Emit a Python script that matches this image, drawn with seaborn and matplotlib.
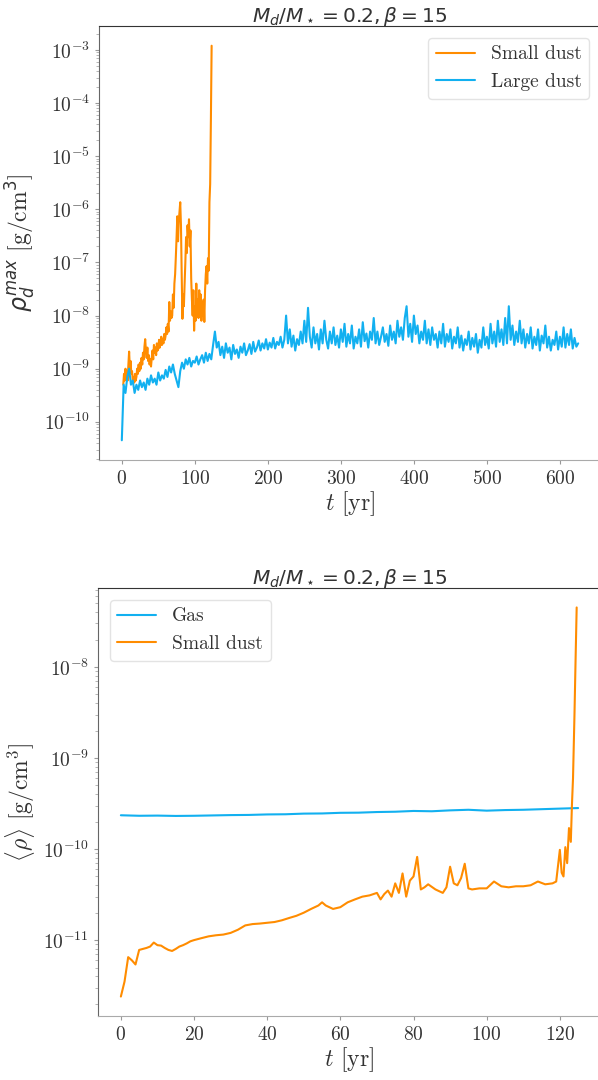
import numpy as np
import pandas as pd
import matplotlib
matplotlib.use("Agg")
import matplotlib.pyplot as plt
from matplotlib.ticker import FuncFormatter, LogLocator
import seaborn as sns

# ---------------- data ----------------
# top panel: maximum dust density, small dust (units 1e-9 g/cm^3)
t_small_max = list(range(2, 124))
small_max_e9 = [
    0.5, 0.8, 0.6, 1.0, 0.7, 0.9, 0.6, 1.2, 2.1, 1.0,
    1.4, 0.8, 0.9, 0.6, 0.7, 0.55, 0.8, 0.6, 0.7, 1.0,
    0.8, 1.2, 0.9, 1.3, 1.0, 1.6, 1.2, 2.0, 1.5, 2.6,
    3.6, 2.2, 1.6, 2.5, 1.4, 1.8, 1.2, 1.5, 1.1, 1.6,
    2.2, 1.5, 2.8, 2.0, 2.5, 1.8, 3.0, 2.2, 2.4, 3.5,
    2.5, 3.0, 4.0, 2.8, 3.6, 3.0, 4.5, 3.5, 4.2, 6.0,
    4.5, 7.0, 5.0, 18, 8, 12, 9, 10, 25, 14,
    40, 60, 130, 300, 740, 250, 600, 900, 1360, 500,
    60, 8.7, 25, 15, 40, 100, 300, 150, 500, 300,
    650, 200, 400, 50, 20, 10, 30, 5.2, 15, 8,
    40, 12, 20, 9, 30, 12, 25, 8, 18, 10,
    20, 7.6, 30, 60, 85, 40, 120, 70, 1360, 3000, 50000, 1.2e6,
]

# top panel: maximum dust density, large dust (units 1e-9 g/cm^3), every 2.5 yr
large_max_e9 = [
    0.045, 0.5, 0.35, 0.7, 1.0, 0.5, 0.6, 0.35, 0.5, 0.4,
    0.6, 0.45, 0.55, 0.4, 0.65, 0.5, 0.75, 0.55, 0.65, 0.5,
    0.85, 0.6, 0.75, 0.65, 0.95, 0.7, 1.1, 0.85, 1.2, 0.8,
    0.6, 0.45, 0.9, 1.3, 1.0, 1.5, 1.2, 1.6, 1.1, 1.4,
    1.3, 1.7, 1.2, 1.5, 1.8, 1.3, 2.0, 1.4, 1.9, 1.5,
    2.8, 5.0, 2.5, 3.2, 1.8, 2.6, 1.6, 3.0, 2.0, 2.5,
    1.5, 2.8, 1.9, 2.3, 1.6, 2.6, 2.0, 3.0, 1.8, 2.2,
    2.9, 1.9, 3.2, 2.1, 2.5, 3.4, 2.2, 3.0, 2.4, 3.6,
    2.3, 3.1, 2.5, 3.8, 2.4, 3.2, 2.8, 4.0, 2.5, 3.5,
    10, 3.0, 5.5, 2.6, 4.2, 2.2, 3.6, 2.8, 5.0, 3.0,
    8.0, 3.2, 14, 4.0, 2.5, 6.0, 3.0, 4.5, 2.3, 5.5,
    3.0, 8.0, 3.5, 2.4, 5.0, 3.0, 6.0, 2.8, 4.2, 2.5,
    5.5, 3.2, 7.0, 2.6, 4.5, 3.0, 6.5, 2.4, 4.0, 3.0,
    5.5, 2.6, 7.5, 3.3, 4.6, 2.5, 5.0, 3.5, 9.0, 3.0,
    5.0, 2.8, 4.0, 6.0, 3.2, 4.5, 2.7, 6.5, 3.5, 5.0,
    3.0, 8.0, 4.0, 6.0, 3.5, 9.0, 15, 4.0, 7.0, 3.2,
    10, 4.5, 6.5, 3.0, 5.0, 3.5, 8.0, 3.0, 5.5, 2.8,
    6.0, 3.5, 4.5, 2.5, 5.0, 3.0, 7.0, 2.6, 4.5, 3.2,
    5.5, 2.4, 4.0, 3.0, 6.0, 2.5, 4.2, 2.2, 3.6, 2.8,
    5.0, 2.3, 3.8, 2.6, 4.5, 2.0, 3.5, 2.5, 6.0, 2.8,
    4.0, 2.4, 7.0, 3.0, 5.0, 2.6, 8.0, 3.2, 5.5, 2.8,
    9.0, 3.0, 15, 3.5, 6.5, 2.8, 5.0, 3.2, 8.0, 3.0,
    5.5, 2.5, 4.5, 3.0, 6.0, 2.4, 4.0, 2.8, 5.5, 2.2,
    4.2, 3.0, 6.5, 2.5, 4.0, 2.2, 3.5, 2.8, 5.0, 2.3,
    4.0, 2.6, 6.0, 2.5, 4.5, 2.8, 5.5, 2.4, 3.8, 2.6,
    3.0,
]
t_large_max = np.linspace(0, 625, len(large_max_e9))

# bottom panel: mean density, gas (units 1e-10 g/cm^3)
t_gas = [0, 5, 10, 15, 20, 25, 30, 35, 40, 45, 50, 55, 60, 65, 70, 75, 80,
         85, 90, 95, 100, 105, 110, 115, 120, 125]
gas_mean_e10 = [2.35, 2.32, 2.33, 2.31, 2.32, 2.34, 2.36, 2.37, 2.40, 2.41,
                2.45, 2.46, 2.50, 2.51, 2.55, 2.57, 2.62, 2.60, 2.66, 2.70,
                2.64, 2.68, 2.70, 2.74, 2.78, 2.82]

# bottom panel: mean density, small dust (units 1e-11 g/cm^3)
t_small_mean = [0, 1, 2, 3, 4, 5, 6, 7, 8, 9,
                10, 11, 12, 13, 14, 15, 16, 17, 18, 19,
                20, 22, 24, 26, 28, 30, 32, 34, 36, 38,
                40, 42, 44, 46, 48, 50, 52, 54, 55, 56,
                58, 60, 62, 64, 66, 68, 70, 71, 72, 73,
                74, 75, 76, 77, 78, 79, 80, 81, 82, 83,
                84, 86, 88, 89, 90, 91, 92, 93, 94, 95,
                96, 98, 100, 102, 104, 106, 108, 110, 112, 114,
                116, 118, 119, 120, 120.5, 121, 121.5, 122, 122.5, 123,
                123.3, 123.6, 124, 124.3, 124.6]
small_mean_e11 = [0.24, 0.35, 0.65, 0.6, 0.54, 0.78, 0.8, 0.82, 0.85, 0.94,
                  0.88, 0.87, 0.82, 0.78, 0.76, 0.8, 0.85, 0.88, 0.92, 0.97,
                  1.0, 1.05, 1.1, 1.13, 1.15, 1.2, 1.3, 1.45, 1.5, 1.52,
                  1.55, 1.58, 1.65, 1.75, 1.85, 2.0, 2.2, 2.4, 2.6, 2.4,
                  2.2, 2.3, 2.6, 2.8, 3.0, 3.1, 3.3, 2.8, 3.2, 3.5,
                  3.0, 4.2, 3.3, 5.4, 3.0, 4.5, 5.0, 8.2, 3.6, 3.8,
                  4.1, 3.6, 3.3, 3.8, 6.4, 4.2, 4.0, 4.8, 6.9, 3.7,
                  3.6, 3.7, 3.7, 4.4, 3.9, 3.8, 3.9, 3.9, 4.0, 4.4,
                  4.1, 4.2, 4.4, 9.8, 5.5, 5.0, 10.5, 7.0, 17, 12,
                  30, 60, 300, 1200, 4500]

title_text = r"$M_d/M_\star = 0.2, \beta = 15$"
ORANGE = "#ff8c00"
BLUE = "#12b0f0"

# ---------------- style ----------------
sns.set_style("white")
plt.rcParams["mathtext.fontset"] = "cm"
plt.rcParams["font.family"] = ["DejaVu Sans"]

fig = plt.figure(figsize=(5.98, 10.8), dpi=100)
W, H = 598, 1080
ax1 = fig.add_axes([99 / W, 1 - 460 / H, (601 - 99) / W, (460 - 26) / H])
ax2 = fig.add_axes([98 / W, 1 - 1016 / H, (601 - 98) / W, (1016 - 588) / H])

df_small = pd.DataFrame({"t": t_small_max, "rho": np.array(small_max_e9) * 1e-9})
df_large = pd.DataFrame({"t": t_large_max, "rho": np.array(large_max_e9) * 1e-9})
df_gas = pd.DataFrame({"t": t_gas, "rho": np.array(gas_mean_e10) * 1e-10})
df_sm = pd.DataFrame({"t": t_small_mean, "rho": np.array(small_mean_e11) * 1e-11})

sns.lineplot(data=df_small, x="t", y="rho", ax=ax1, color=ORANGE, lw=1.5,
             label="Small dust", estimator=None, sort=False)
sns.lineplot(data=df_large, x="t", y="rho", ax=ax1, color=BLUE, lw=1.5,
             label="Large dust", estimator=None, sort=False)

sns.lineplot(data=df_gas, x="t", y="rho", ax=ax2, color=BLUE, lw=1.5,
             label="Gas", estimator=None, sort=False)
sns.lineplot(data=df_sm, x="t", y="rho", ax=ax2, color=ORANGE, lw=1.5,
             label="Small dust", estimator=None, sort=False)

logfmt = FuncFormatter(lambda v, p: r"$10^{%d}$" % int(round(np.log10(v))))
numfmt = FuncFormatter(lambda v, p: r"$%d$" % int(round(v)))

for ax in (ax1, ax2):
    ax.set_yscale("log")
    ax.yaxis.set_major_locator(LogLocator(base=10, numticks=20))
    ax.yaxis.set_major_formatter(logfmt)
    ax.xaxis.set_major_formatter(numfmt)
    ax.tick_params(axis="both", which="major", labelsize=14, length=3,
                   color="#999999", labelcolor="#333333", left=True, bottom=True)
    ax.tick_params(axis="y", which="minor", length=2, color="#aaaaaa", left=True)
    ax.spines["top"].set_color("#333333")
    ax.spines["left"].set_color("#666666")
    ax.spines["bottom"].set_color("#aaaaaa")
    ax.spines["right"].set_visible(False)
    ax.set_title(title_text, fontsize=14.5, math_fontfamily="dejavusans",
                 color="#333333", pad=3)
    ax.set_xlabel(r"$t$ [yr]", fontsize=17, family="cmr10", math_fontfamily="cm",
                  color="#333333", labelpad=1)

ax1.set_ylabel(r"$\rho_d^{max}$ [g/cm$^3$]", fontsize=17, family="cmr10",
               math_fontfamily="dejavusans", color="#333333", labelpad=4)
ax2.set_ylabel(r"$\langle\rho\rangle$ [g/cm$^3$]", fontsize=17, family="cmr10",
               math_fontfamily="cm", color="#333333", labelpad=4)

for ax, loc in ((ax1, "upper right"), (ax2, "upper left")):
    leg = ax.legend(loc=loc, prop={"family": "cmr10", "size": 14},
                    frameon=True, fancybox=True, handlelength=2.0,
                    borderaxespad=0.6)
    leg.get_frame().set_edgecolor("#dddddd")
    for txt in leg.get_texts():
        txt.set_color("#333333")

fig.savefig("out.png", dpi=100)
